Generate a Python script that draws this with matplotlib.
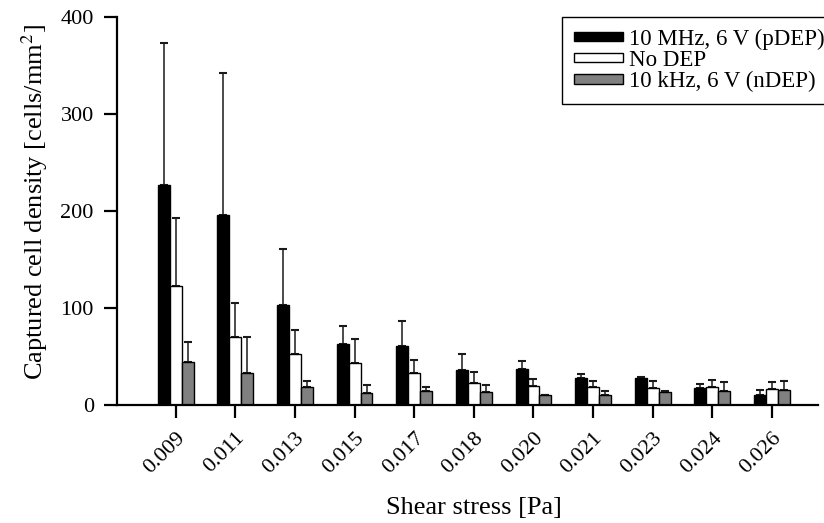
import numpy as np
import matplotlib
matplotlib.use("Agg")
import matplotlib.pyplot as plt

plt.rcParams['font.family'] = ['Liberation Serif', 'DejaVu Serif']
plt.rcParams['mathtext.fontset'] = 'stix'

# shear stress categories [Pa]
shear = ["0.009", "0.011", "0.013", "0.015", "0.017", "0.018",
         "0.020", "0.021", "0.023", "0.024", "0.026"]

# captured cell density [cells/mm^2], mean and upper error
pdep_mean = [227, 195.5, 103.5, 63.4, 61, 36, 37.7, 28, 28.5, 17.5, 11.2]
pdep_err = [146, 147, 58, 18.5, 25.7, 17, 8.3, 4, 0.5, 5.1, 5.1]
nodep_mean = [123, 70.6, 52.5, 43.8, 33, 23.3, 20.5, 18.6, 17.5, 18.6, 16.8]
nodep_err = [70, 35, 25, 24.4, 14, 11, 7.2, 6.2, 7.3, 7.4, 7.2]
ndep_mean = [44.5, 33.5, 18.5, 13, 14.5, 13.7, 10.6, 10.3, 13.7, 15.4, 16]
ndep_err = [20.3, 37.1, 6.5, 7.9, 4, 7.3, 0, 5.1, 1.3, 8.9, 9]

labels = ["10 MHz, 6 V (pDEP)", "No DEP", "10 kHz, 6 V (nDEP)"]

fig = plt.figure(figsize=(8.24, 5.23), dpi=100)
ax = fig.add_axes([0.1416, 0.2247, 0.851, 0.7434])

x = np.arange(len(shear))
w = 0.2
series = [(pdep_mean, pdep_err, "black"),
          (nodep_mean, nodep_err, "white"),
          (ndep_mean, ndep_err, "#808080")]

for i, (m, e, c) in enumerate(series):
    pos = x + (i - 1) * w
    ax.bar(pos, m, width=w, color=c, edgecolor="black", linewidth=1,
           label=labels[i], zorder=2)
    ax.errorbar(pos, m, yerr=[np.zeros(len(m)), e], fmt="none",
                ecolor="#1a1a1a", elinewidth=1.1, capsize=3, capthick=1.5,
                zorder=1)

ax.set_xlim(-0.99, 10.77)
ax.set_ylim(0, 400)
ax.set_yticks([0, 100, 200, 300, 400])
ax.set_xticks(x)
ax.set_xticklabels(shear, rotation=45, ha="right", rotation_mode="anchor")

for s in ["top", "right"]:
    ax.spines[s].set_visible(False)
for s in ["left", "bottom"]:
    ax.spines[s].set_linewidth(1.6)

ax.tick_params(direction="out", length=9.5, width=1.6, labelsize=16, pad=7)

ax.set_ylabel("Captured cell density [cells/mm$^2$]", fontsize=19)
ax.set_xlabel("Shear stress [Pa]", fontsize=19)
ax.yaxis.set_label_coords(-0.095, 0.523)
ax.xaxis.set_label_coords(0.51, -0.236)

leg = ax.legend(loc="upper left", bbox_to_anchor=(562 / 824, 1 - 17 / 523),
                bbox_transform=fig.transFigure, fontsize=16.5, frameon=True,
                fancybox=False, framealpha=1, edgecolor="black",
                handlelength=2.15, handleheight=0.25, labelspacing=0.0,
                borderpad=0.52, handletextpad=0.25, borderaxespad=0)
leg.get_frame().set_linewidth(1)

fig.savefig("out.png", dpi=100)
